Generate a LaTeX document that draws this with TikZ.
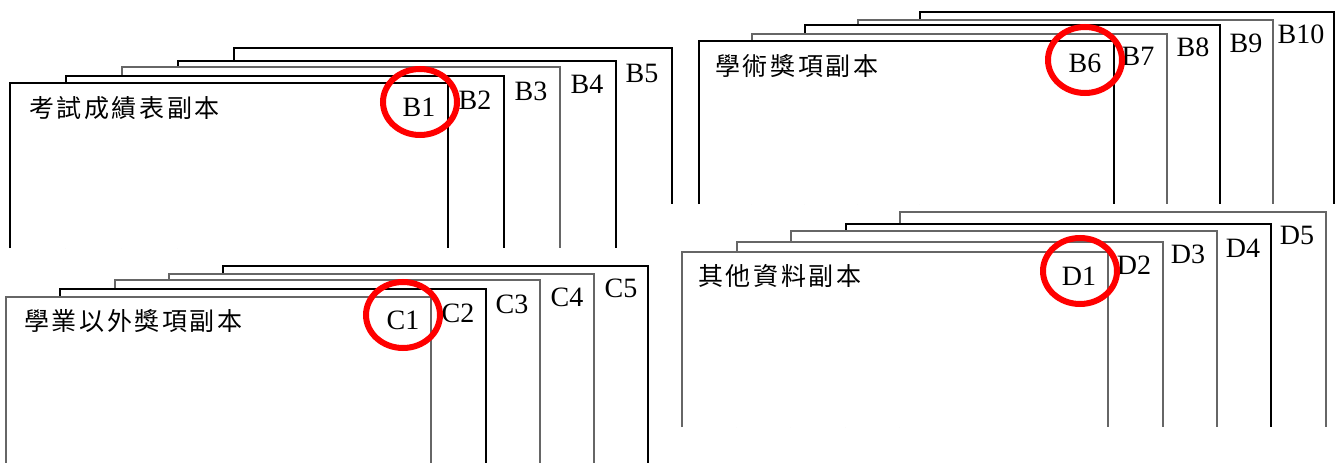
\documentclass[tikz,border=0pt]{standalone}
\usepackage{fontspec}
\setmainfont{Liberation Serif}
\newfontfamily\cjk{Noto Sans CJK TC}
\usetikzlibrary{shapes.geometric}
\newcommand\sk{\kern2.6pt}
\newcommand\pg[6]{%
  \fill[white] (#1,#2) rectangle (#3,#4);
  \draw[pageline,#6] (#1,#4) -- (#1,#2) -- (#3,#2) -- (#3,#4);
  \coordinate (#5) at (#1,#2);}
\tikzset{
  pageline/.style={line width=1.1pt, line join=miter},
  pk/.style={draw=black},
  pgr/.style={draw=black!60},
  lab/.style={anchor=base, inner sep=0pt, font=\fontsize{28}{28}\selectfont},
  ttl/.style={anchor=base west, inner sep=0pt, font=\cjk\fontsize{25}{25}\selectfont},
  ring/.style={draw=red, line width=6pt, ellipse, minimum width=74pt, minimum height=66pt, inner sep=0pt}
}
\begin{document}
\begin{tikzpicture}[x=1pt,y=-1pt]
\useasboundingbox[fill=white] (0,0) rectangle (1342,463);
% ---- group B (top left)
\pg{234}{48}{672}{204}{pB5}{pk}
\pg{178}{61}{616}{248}{pB4}{pk}
\pg{122}{67}{560}{248}{pB3}{pgr}
\pg{66}{76}{504}{248}{pB2}{pk}
\pg{10}{83}{448}{248}{pB1}{pk}
\node[ttl] (tB) at (29,117) {考\sk 試\sk 成\sk 績\sk 表\sk 副\sk 本};
\node[lab] (B1) at (419,116) {B1};
\node[lab] (B2) at (475,109) {B2};
\node[lab] (B3) at (531,100) {B3};
\node[lab] (B4) at (587,93) {B4};
\node[lab] (B5) at (642,82) {B5};
\node[ring] (rB1) at (420,102) {};
% ---- group B (top right)
\pg{920}{12}{1334}{204}{pB10}{pk}
\pg{858}{20}{1273}{204}{pB9}{pgr}
\pg{805}{25}{1220}{204}{pB8}{pk}
\pg{752}{34}{1167}{204}{pB7}{pgr}
\pg{699}{41}{1114}{204}{pB6}{pk}
\node[ttl] (tB6) at (715,75) {學\sk 術\sk 獎\sk 項\sk 副\sk 本};
\node[lab] (B6) at (1085,72) {B6};
\node[lab] (B7) at (1138,65) {B7};
\node[lab] (B8) at (1193,56) {B8};
\node[lab] (B9) at (1246,52) {B9};
\node[lab] (B10) at (1301,43) {B10};
\node[ring] (rB6) at (1085,60) {};
% ---- group C (bottom left)
\pg{223}{266}{648}{463}{pC5}{pk}
\pg{169}{274}{594}{463}{pC4}{pgr}
\pg{115}{280}{540}{463}{pC3}{pgr}
\pg{60}{289}{486}{463}{pC2}{pk}
\pg{6}{297}{431}{463}{pC1}{pgr}
\node[ttl] (tC) at (24,330) {學\sk 業\sk 以\sk 外\sk 獎\sk 項\sk 副\sk 本};
\node[lab] (C1) at (403,329) {C1};
\node[lab] (C2) at (458,322) {C2};
\node[lab] (C3) at (512,313) {C3};
\node[lab] (C4) at (567,306) {C4};
\node[lab] (C5) at (621,297) {C5};
\node[ring] (rC1) at (403,315) {};
% ---- group D (bottom right)
\pg{900}{212}{1326}{427}{pD5}{pgr}
\pg{846}{224}{1271}{427}{pD4}{pk}
\pg{791}{231}{1217}{427}{pD3}{pgr}
\pg{737}{242}{1163}{427}{pD2}{pgr}
\pg{682}{252}{1108}{427}{pD1}{pgr}
\node[ttl] (tD) at (698,285) {其\sk 他\sk 資\sk 料\sk 副\sk 本};
\node[lab] (D1) at (1079,285) {D1};
\node[lab] (D2) at (1134,274) {D2};
\node[lab] (D3) at (1188,263) {D3};
\node[lab] (D4) at (1243,257) {D4};
\node[lab] (D5) at (1297,244) {D5};
\node[ring] (rD1) at (1080,271) {};
\end{tikzpicture}
\end{document}
